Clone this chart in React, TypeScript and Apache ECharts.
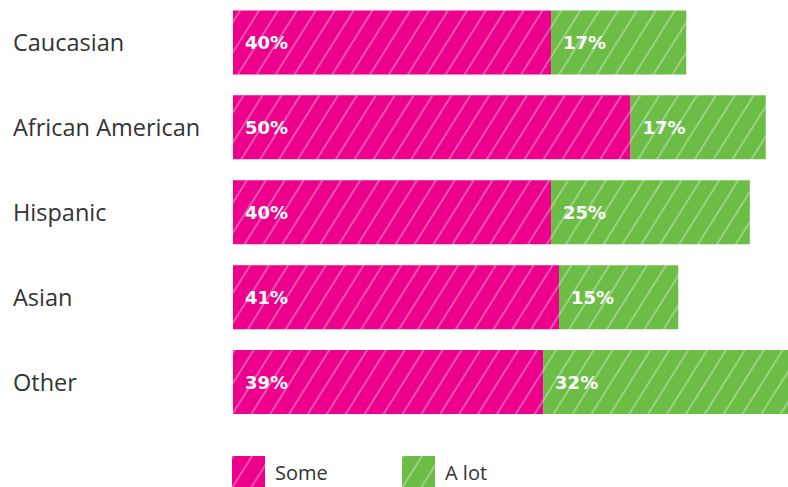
import React, { useEffect, useRef } from "react";
import * as echarts from "echarts";

const categories = ["Caucasian", "African American", "Hispanic", "Asian", "Other"];
const someValues = [40, 50, 40, 41, 39];
const aLotValues = [17, 17, 25, 15, 32];
const seriesNames = ["Some", "A lot"];

const PINK = "#EC008C";
const GREEN = "#6BBD45";
const FONT = "'Open Sans', sans-serif";
const LABEL_FONT = "'DejaVu Sans', sans-serif";

const decal = {
  symbol: "rect",
  symbolSize: 1,
  dashArrayX: [1, 0],
  dashArrayY: [2, 14],
  rotation: -1.01,
  color: "rgba(255,255,255,0.32)",
};

export default function App() {
  const ref = useRef<HTMLDivElement>(null);
  useEffect(() => {
    if (!ref.current) return;
    const chart = echarts.init(ref.current, null, { renderer: "svg" });
    const label = {
      show: true,
      position: "insideLeft",
      distance: 12,
      color: "#fff",
      fontFamily: LABEL_FONT,
      fontWeight: "bold",
      fontSize: 18,
      padding: [3, 0, 0, 0],
      formatter: "{c}%",
    };
    const legendBase = {
      top: 456,
      padding: 0,
      itemWidth: 33,
      itemHeight: 32,
      icon: "rect",
      textStyle: { fontSize: 20, color: "#333", fontFamily: FONT, padding: [0, 0, 0, 5] },
    };
    chart.setOption({
      animation: false,
      grid: { left: 233, right: 0, top: -1.5, bottom: 62.5 },
      xAxis: { type: "value", min: 0, max: 69.8, show: false },
      yAxis: {
        type: "category",
        data: categories,
        inverse: true,
        axisLine: { show: false },
        axisTick: { show: false },
        axisLabel: {
          align: "left",
          margin: 220,
          color: "#333",
          fontSize: 23.5,
          fontFamily: FONT,
          padding: [0, 0, 6, 0],
        },
      },
      legend: [
        { ...legendBase, data: [seriesNames[0]], left: 232 },
        { ...legendBase, data: [seriesNames[1]], left: 402 },
      ],
      series: [
        {
          name: seriesNames[0],
          type: "bar",
          stack: "total",
          barWidth: 64,
          clip: false,
          data: someValues,
          itemStyle: { color: PINK, decal },
          label,
        },
        {
          name: seriesNames[1],
          type: "bar",
          stack: "total",
          barWidth: 64,
          clip: false,
          data: aLotValues,
          itemStyle: { color: GREEN, decal },
          label,
        },
      ],
    });
    return () => chart.dispose();
  }, []);
  return (
    <div
      ref={ref}
      style={{ position: "absolute", left: 0, top: 0, width: 788, height: 487 }}
    />
  );
}
